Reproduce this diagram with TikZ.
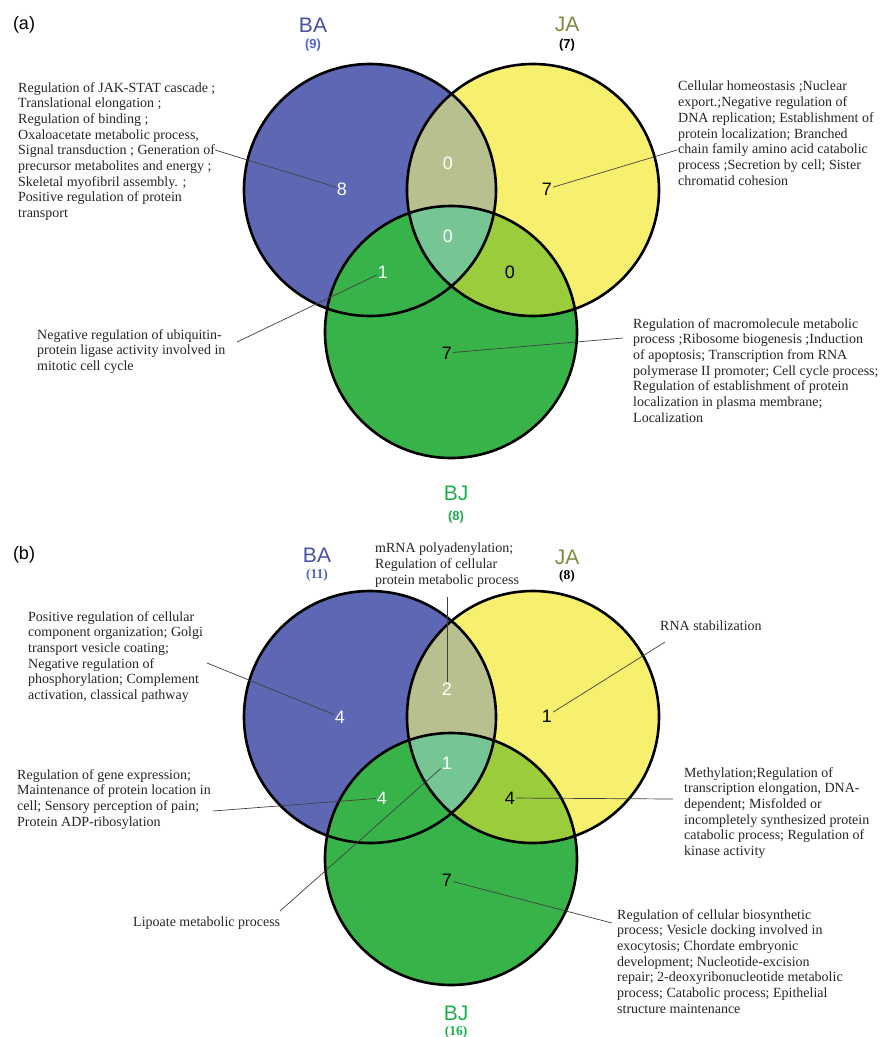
\documentclass[tikz,border=0pt]{standalone}
\usepackage{fontspec}
\setmainfont{Liberation Serif}
\setsansfont{Liberation Sans}
\definecolor{cBA}{HTML}{5E67B4}
\definecolor{cJA}{HTML}{F7F06E}
\definecolor{cBJ}{HTML}{38B34A}
\definecolor{cBAJA}{HTML}{B9C08F}
\definecolor{cC}{HTML}{75C694}
\definecolor{cJABJ}{HTML}{9ACC3C}
\definecolor{lBA}{HTML}{4A4FA6}
\definecolor{lBAc}{HTML}{5565C4}
\definecolor{lJA}{HTML}{7D8B3E}
\definecolor{lBJ}{HTML}{1FAE4E}
\definecolor{txt}{HTML}{262626}
\newcommand{\vennshapes}{%
 \fill[cBA] (370,190) circle (126pt);
 \fill[cJA] (533,190) circle (126pt);
 \fill[cBJ] (451,332) circle (126pt);
 \begin{scope}\clip (370,190) circle (126pt); \fill[cBAJA] (533,190) circle (126pt); \end{scope}
 \begin{scope}\clip (533,190) circle (126pt); \fill[cJABJ] (451,332) circle (126pt); \end{scope}
 \begin{scope}\clip (370,190) circle (126pt); \clip (533,190) circle (126pt); \fill[cC] (451,332) circle (126pt); \end{scope}
 \draw[ring] (370,190) circle (126pt) (533,190) circle (126pt) (451,332) circle (126pt);
}
\begin{document}
\begin{tikzpicture}[x=1pt,y=-1pt,
 lbl/.style={font=\fontsize{14}{15.7}\selectfont, align=left, anchor=north west, inner sep=0pt, text=txt},
 num/.style={font=\sffamily\fontsize{18}{18}\selectfont, inner sep=1pt},
 wnum/.style={num, text=white},
 bnum/.style={num, text=black},
 conn/.style={draw=black!75, line width=0.7pt},
 ring/.style={draw=black, line width=2.6pt},
 setname/.style={font=\sffamily\fontsize{21}{21}\selectfont, inner sep=0pt},
 setcnt/.style={font=\sffamily\bfseries\fontsize{13}{13}\selectfont, inner sep=0pt},
 setcntb/.style={font=\bfseries\fontsize{13.5}{13.5}\selectfont, inner sep=0pt},
 panel/.style={font=\sffamily\fontsize{18}{18}\selectfont, inner sep=0pt}]
\fill[white] (0,0) rectangle (882,1037);
\useasboundingbox (0,0) rectangle (882,1037);
% ---------------- panel (a)
\vennshapes
\node[panel] (pa) at (24,25) {(a)};
\node[setname, text=lBA] (ba) at (313,25) {BA};
\node[setcnt, text=lBAc] (bacnt) at (313,45) {(9)};
\node[setname, text=lJA] (ja) at (567,24) {JA};
\node[setcnt] (jacnt) at (567,45) {(7)};
\node[setname, text=lBJ] (bj) at (456,493) {BJ};
\node[setcnt, text=lBJ] (bjcnt) at (456,517) {(8)};
\node[wnum] (a8) at (342,189) {8};
\node[wnum] (a0t) at (448,163) {0};
\node[bnum] (a7j) at (547,189) {7};
\node[wnum] (a0c) at (448,236) {0};
\node[wnum] (a1) at (383,272) {1};
\node[bnum] (a0r) at (510,272) {0};
\node[bnum] (a7b) at (447,353) {7};
\node[lbl] (ta1) at (18,82) {Regulation of JAK-STAT cascade ;\\Translational elongation ;\\Regulation of binding ;\\Oxaloacetate metabolic process,\\Signal transduction ; Generation of\\precursor metabolites and energy ;\\Skeletal myofibril assembly. ;\\Positive regulation of protein\\transport};
\node[lbl] (ta2) at (678,81) {Cellular homeostasis ;Nuclear\\export.;Negative regulation of\\DNA replication; Establishment of\\protein localization; Branched\\chain family amino acid catabolic\\process ;Secretion by cell; Sister\\chromatid cohesion};
\node[lbl] (ta3) at (37,329) {Negative regulation of ubiquitin-\\protein ligase activity involved in\\mitotic cell cycle};
\node[lbl] (ta4) at (633,318) {Regulation of macromolecule metabolic\\process ;Ribosome biogenesis ;Induction\\of apoptosis; Transcription from RNA\\polymerase II promoter; Cell cycle process;\\Regulation of establishment of protein\\localization in plasma membrane;\\Localization};
\coordinate (ca1) at (215,150);
\coordinate (ca2) at (677,150);
\coordinate (ca3) at (237,342);
\coordinate (ca4) at (623,338);
\draw[conn] (ca1) -- (a8);
\draw[conn] (ca2) -- (a7j);
\draw[conn] (ca3) -- (a1);
\draw[conn] (ca4) -- (a7b);
% ---------------- panel (b)
\begin{scope}[yshift=-527pt]
\vennshapes
\end{scope}
\node[panel] (pb) at (24,555) {(b)};
\node[setname, text=lBA] (bba) at (317,555) {BA};
\node[setcntb, text=lBAc] (bbacnt) at (317,575) {(11)};
\node[setname, text=lJA] (bja) at (567,557) {JA};
\node[setcntb] (bjacnt) at (567,576) {(8)};
\node[setname, text=lBJ] (bbj) at (456,1013) {BJ};
\node[setcntb, text=lBJ] (bbjcnt) at (456,1032) {(16)};
\node[wnum] (b4) at (340,717) {4};
\node[wnum] (b2) at (447,689) {2};
\node[bnum] (b1j) at (547,716) {1};
\node[wnum] (b1c) at (447,763) {1};
\node[wnum] (b4l) at (382,798) {4};
\node[bnum] (b4r) at (510,798) {4};
\node[bnum] (b7) at (447,880) {7};
\node[lbl] (tb1) at (375,543) {mRNA polyadenylation;\\Regulation of cellular\\protein metabolic process};
\node[lbl] (tb2) at (28,611) {Positive regulation of cellular\\component organization; Golgi\\transport vesicle coating;\\Negative regulation of\\phosphorylation; Complement\\activation, classical pathway};
\node[lbl] (tb3) at (660,621) {RNA stabilization};
\node[lbl] (tb4) at (17,769) {Regulation of gene expression;\\Maintenance of protein location in\\cell; Sensory perception of pain;\\Protein ADP-ribosylation};
\node[lbl] (tb5) at (133,917) {Lipoate metabolic process};
\node[lbl] (tb6) at (684,767) {Methylation;Regulation of\\transcription elongation, DNA-\\dependent; Misfolded or\\incompletely synthesized protein\\catabolic process; Regulation of\\kinase activity};
\node[lbl] (tb7) at (617,909) {Regulation of cellular biosynthetic\\process; Vesicle docking involved in\\exocytosis; Chordate embryonic\\development; Nucleotide-excision\\repair; 2-deoxyribonucleotide metabolic\\process; Catabolic process; Epithelial\\structure maintenance};
\coordinate (cb1) at (447,597);
\coordinate (cb2) at (207,663);
\coordinate (cb3) at (665,642);
\coordinate (cb4) at (213,811);
\coordinate (cb5) at (280,911);
\coordinate (cb6) at (673,799);
\coordinate (cb7) at (612,923);
\draw[conn] (cb1) -- (b2);
\draw[conn] (cb2) -- (b4);
\draw[conn] (cb3) -- (b1j);
\draw[conn] (cb4) -- (b4l);
\draw[conn] (cb5) -- (b1c);
\draw[conn] (cb6) -- (b4r);
\draw[conn] (cb7) -- (b7);
\end{tikzpicture}
\end{document}
